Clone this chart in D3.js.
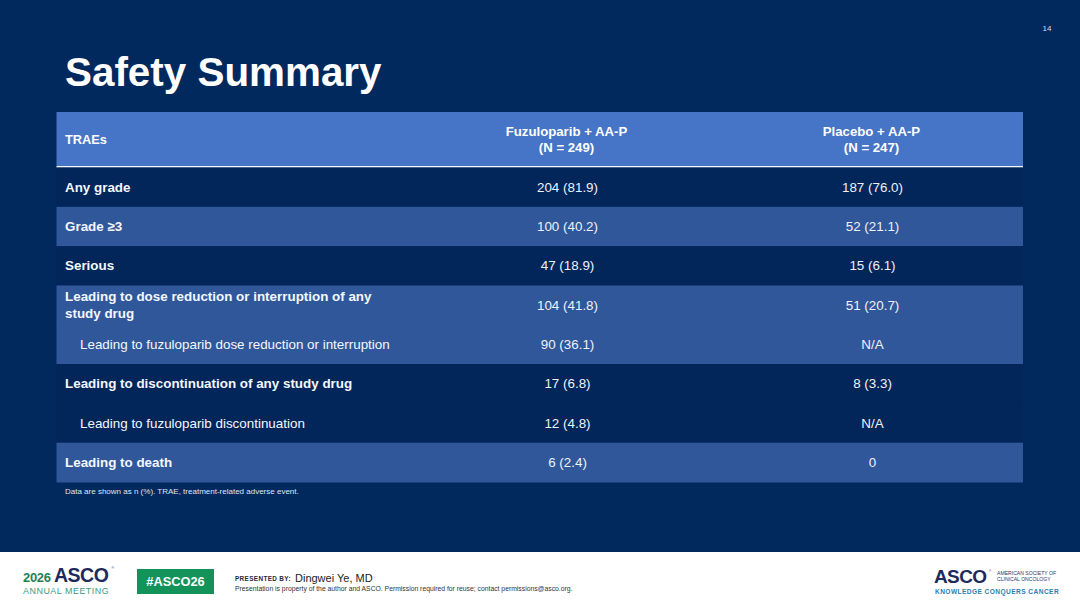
<!DOCTYPE html>
<html>
<head>
<meta charset="utf-8">
<script src="https://cdn.jsdelivr.net/npm/d3@7"></script>
<style>
  html, body { margin: 0; padding: 0; background: #02295d; }
  svg { display: block; font-family: "Liberation Sans", Arial, sans-serif; }
</style>
</head>
<body>
<div id="slide"></div>
<script>
(function () {
  'use strict';

  // table content
  var headerLabel = 'TRAEs';
  var armNames = ['Fuzuloparib + AA-P', 'Placebo + AA-P'];
  var armN = ['(N = 249)', '(N = 247)'];

  var rowLabels = [
    ['Any grade'],
    ['Grade \u22653'],
    ['Serious'],
    ['Leading to dose reduction or interruption of any', 'study drug'],
    ['Leading to fuzuloparib dose reduction or interruption'],
    ['Leading to discontinuation of any study drug'],
    ['Leading to fuzuloparib discontinuation'],
    ['Leading to death']
  ];
  var rowIsSub = [false, false, false, false, true, false, true, false];
  var rowGroup = [0, 1, 2, 3, 3, 4, 4, 5];
  var fuzuloparibValues = ['204 (81.9)', '100 (40.2)', '47 (18.9)', '104 (41.8)', '90 (36.1)', '17 (6.8)', '12 (4.8)', '6 (2.4)'];
  var placeboValues = ['187 (76.0)', '52 (21.1)', '15 (6.1)', '51 (20.7)', 'N/A', '8 (3.3)', 'N/A', '0'];

  var titleText = 'Safety Summary';
  var footnote = 'Data are shown as n (%). TRAE, treatment-related adverse event.';
  var pageNumber = '14';
  var presenter = 'Dingwei Ye, MD';
  var disclaimer = 'Presentation is property of the author and ASCO. Permission required for reuse; contact permissions@asco.org.';

  var W = 1080, H = 608;
  var tableLeft = 56.5, tableRight = 1023;
  var headTop = 112, headBottom = 166;
  var bodyTop = 167.5, bodyBottom = 482;
  var colEdges = [56.5, 413, 720, 1023];

  var svg = d3.select('#slide').append('svg')
    .attr('width', W)
    .attr('height', H);

  svg.append('rect').attr('width', W).attr('height', H).attr('fill', '#02295d');

  // title + page number
  svg.append('text')
    .attr('x', 65).attr('y', 86)
    .attr('fill', '#ffffff')
    .attr('font-size', '40.4px')
    .attr('font-weight', 'bold')
    .text(titleText);
  svg.append('text')
    .attr('x', 1047).attr('y', 31)
    .attr('text-anchor', 'middle')
    .attr('fill', '#d5dcea')
    .attr('font-size', '8px')
    .text(pageNumber);

  var rowIdx = d3.range(rowLabels.length);
  var yRow = d3.scaleBand().domain(rowIdx).range([bodyTop, bodyBottom]).paddingInner(0);
  var xCol = d3.scaleOrdinal().domain([0, 1, 2]).range([0, 1, 2].map(function (i) {
    return (colEdges[i] + colEdges[i + 1]) / 2;
  }));

  // header
  var head = svg.append('g').attr('class', 'table-head');
  head.append('rect')
    .attr('x', tableLeft).attr('y', headTop)
    .attr('width', tableRight - tableLeft).attr('height', headBottom - headTop)
    .attr('fill', '#4674c6');
  head.append('rect')
    .attr('x', tableLeft).attr('y', headBottom)
    .attr('width', tableRight - tableLeft).attr('height', 1.6)
    .attr('fill', '#f2f5fb');
  head.append('text')
    .attr('x', 65).attr('y', (headTop + headBottom) / 2 + 4.5)
    .attr('fill', '#ffffff').attr('font-size', '12.8px').attr('font-weight', 'bold')
    .text(headerLabel);
  armNames.forEach(function (name, i) {
    var t = head.append('text')
      .attr('x', xCol(i + 1)).attr('text-anchor', 'middle')
      .attr('fill', '#ffffff').attr('font-size', '13.2px').attr('font-weight', 'bold');
    t.append('tspan').attr('x', xCol(i + 1)).attr('y', 136).text(name);
    t.append('tspan').attr('x', xCol(i + 1)).attr('y', 152).text(armN[i]);
  });

  // body
  var body = svg.append('g').attr('class', 'table-body');
  var rows = body.selectAll('g.row')
    .data(rowIdx)
    .join('g')
    .attr('class', 'row')
    .attr('transform', function (i) { return 'translate(0,' + yRow(i) + ')'; });

  rows.append('rect')
    .attr('x', tableLeft)
    .attr('width', tableRight - tableLeft)
    .attr('height', yRow.bandwidth() + 0.5)
    .attr('fill', function (i) { return rowGroup[i] % 2 ? '#30579a' : '#02255a'; });

  var mid = yRow.bandwidth() / 2;
  rows.append('text')
    .attr('x', function (i) { return rowIsSub[i] ? 80 : 65; })
    .attr('fill', '#f4f7fc')
    .attr('font-size', '13.4px')
    .attr('font-weight', function (i) { return rowIsSub[i] ? 'normal' : 'bold'; })
    .each(function (i) {
      var lines = rowLabels[i];
      var lh = 16.5;
      var y0 = mid + 4.5 - (lines.length - 1) * lh / 2;
      var sel = d3.select(this);
      lines.forEach(function (line, k) {
        sel.append('tspan').attr('x', rowIsSub[i] ? 80 : 65).attr('y', y0 + k * lh).text(line);
      });
    });

  [fuzuloparibValues, placeboValues].forEach(function (vals, c) {
    rows.append('text')
      .attr('x', xCol(c + 1) + 1)
      .attr('y', mid + 4.5)
      .attr('text-anchor', 'middle')
      .attr('fill', '#eef2f9')
      .attr('font-size', '13.4px')
      .text(function (i) { return vals[i]; });
  });

  svg.append('text')
    .attr('x', 65).attr('y', 494)
    .attr('fill', '#dfe6f2')
    .attr('font-size', '8px')
    .text(footnote);

  // footer band
  var foot = svg.append('g').attr('class', 'footer');
  foot.append('rect').attr('x', 0).attr('y', 552).attr('width', W).attr('height', H - 552).attr('fill', '#ffffff');

  foot.append('text').attr('x', 23).attr('y', 581.5)
    .attr('fill', '#1f7f5c').attr('font-size', '13px').attr('font-weight', 'bold').attr('letter-spacing', '-0.3px').text('2026');
  foot.append('text').attr('x', 54).attr('y', 581.5)
    .attr('fill', '#1c2a5c').attr('font-size', '19.5px').attr('font-weight', 'bold').attr('letter-spacing', '-0.5px').text('ASCO');
  foot.append('text').attr('x', 111.5).attr('y', 569)
    .attr('fill', '#1c2a5c').attr('font-size', '3.5px').text('\u00ae');
  foot.append('text').attr('x', 23).attr('y', 594)
    .attr('fill', '#3a9a83').attr('font-size', '8.9px').attr('letter-spacing', '0.55px').text('ANNUAL MEETING');

  foot.append('rect').attr('x', 137).attr('y', 569).attr('width', 77).attr('height', 25).attr('fill', '#13935a');
  foot.append('text').attr('x', 175.5).attr('y', 586)
    .attr('text-anchor', 'middle').attr('fill', '#ffffff').attr('font-size', '12.8px').attr('font-weight', 'bold')
    .text('#ASCO26');

  foot.append('text').attr('x', 235).attr('y', 581)
    .attr('fill', '#2a2a3a').attr('font-size', '6.4px').attr('font-weight', 'bold').attr('letter-spacing', '0.35px')
    .text('PRESENTED BY:');
  foot.append('text').attr('x', 295).attr('y', 581.5)
    .attr('fill', '#222222').attr('font-size', '11px').text(presenter);
  foot.append('text').attr('x', 235).attr('y', 591)
    .attr('fill', '#333333').attr('font-size', '6.8px').text(disclaimer);

  foot.append('text').attr('x', 934).attr('y', 583)
    .attr('fill', '#1c2a5c').attr('font-size', '19px').attr('font-weight', 'bold').attr('letter-spacing', '-0.6px').text('ASCO');
  foot.append('text').attr('x', 989).attr('y', 572)
    .attr('fill', '#1c2a5c').attr('font-size', '3px').text('\u00ae');
  foot.append('text').attr('x', 997).attr('y', 575)
    .attr('fill', '#2b3560').attr('font-size', '5.1px').text('AMERICAN SOCIETY OF');
  foot.append('text').attr('x', 997).attr('y', 581)
    .attr('fill', '#2b3560').attr('font-size', '5.1px').text('CLINICAL ONCOLOGY');
  foot.append('text').attr('x', 935).attr('y', 593.5)
    .attr('fill', '#2b7fb0').attr('font-size', '6.6px').attr('font-weight', 'bold').attr('letter-spacing', '0.42px')
    .text('KNOWLEDGE CONQUERS CANCER');
})();
</script>
</body>
</html>
